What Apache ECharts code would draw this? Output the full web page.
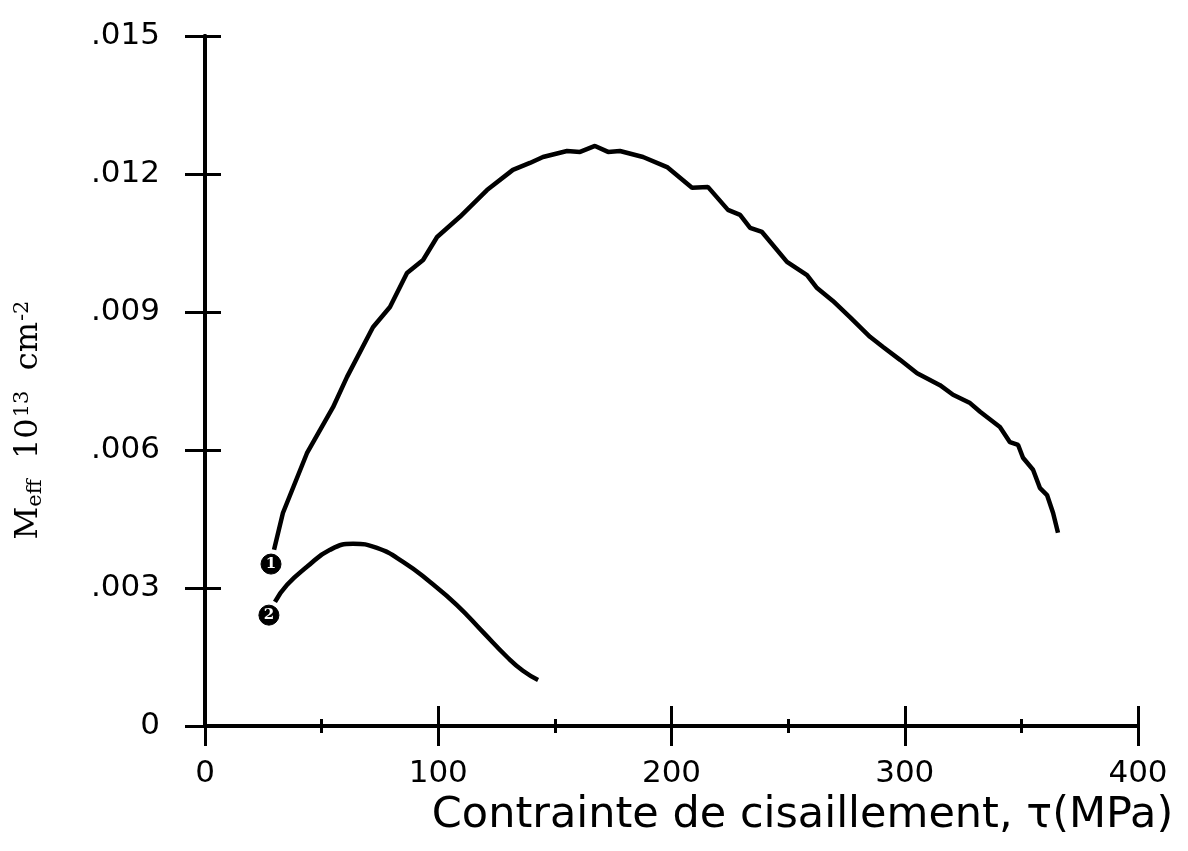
<!DOCTYPE html>
<html><head><meta charset="utf-8">
<script src="https://cdn.jsdelivr.net/npm/echarts@6/dist/echarts.min.js"></script>
<style>html,body{margin:0;padding:0;background:#fff}#c{width:1188px;height:851px}</style>
</head><body><div id="c"></div>
<script>
// Tick labels
const xTickValues = [0, 100, 200, 300, 400];
const yTickLabels = ['0', '.003', '.006', '.009', '.012', '.015'];

// Curve 1 : tau (MPa) and Meff
const curve1Tau = [29.6, 33.4, 43.7, 54.9, 60.9, 72.0, 79.3, 86.6, 93.5, 99.5, 109.3, 120.9, 132.0, 139.3, 144.9, 155.2, 160.8, 167.2, 172.8, 177.9, 187.8, 198.1, 208.8, 215.6, 224.2, 229.4, 233.7, 238.8, 249.5, 258.1, 262.4, 269.2, 276.5, 285.1, 290.7, 298.0, 305.3, 315.1, 320.7, 328.0, 332.3, 340.8, 345.1, 348.6, 350.7, 355.0, 358.0, 361.0, 363.6, 365.7];
const curve1M = [0.00383, 0.00463, 0.00593, 0.00693, 0.00759, 0.00867, 0.00911, 0.00985, 0.01013, 0.01063, 0.01107, 0.01165, 0.01209, 0.01224, 0.01237, 0.01250, 0.01248, 0.01261, 0.01248, 0.01250, 0.01237, 0.01215, 0.01170, 0.01172, 0.01122, 0.01111, 0.01083, 0.01074, 0.01009, 0.00980, 0.00952, 0.00924, 0.00889, 0.00846, 0.00824, 0.00796, 0.00767, 0.00741, 0.00720, 0.00702, 0.00683, 0.00650, 0.00617, 0.00611, 0.00583, 0.00557, 0.00517, 0.00502, 0.00463, 0.00420];

// Curve 2
const curve2Tau = [30.0, 35.2, 43.7, 53.6, 63.5, 73.7, 84.9, 96.5, 108.0, 119.2, 129.5, 136.3, 142.8];
const curve2M = [0.00270, 0.00307, 0.00346, 0.00383, 0.00396, 0.00387, 0.00357, 0.00313, 0.00263, 0.00204, 0.00150, 0.00120, 0.00100];

// Curve number markers
const markerTau = [28.3, 27.4];
const markerM = [0.00352, 0.00241];
const markerLabels = ['1', '2'];

const zip = (a, b) => a.map((v, i) => [v, b[i]]);
const yFmt = v => yTickLabels[Math.round(v / 0.003)] || '';

const axisLine = { show: true, lineStyle: { color: '#000', width: 4 } };
const tick = { show: true, inside: false, length: 20, lineStyle: { color: '#000', width: 3 } };
const labelStyle = { color: '#000', fontFamily: 'DejaVu Sans', fontSize: 31 };

const chart = echarts.init(document.getElementById('c'), null, { renderer: 'canvas' });
chart.setOption({
  animation: false,
  backgroundColor: '#fff',
  grid: { left: 205, right: 50, top: 36, bottom: 125, containLabel: false, outerBoundsMode: 'none' },
  xAxis: [
    {
      type: 'value', position: 'bottom', min: 0, max: 400, interval: 100,
      axisLine, axisTick: tick,
      minorTick: { show: true, splitNumber: 2, length: 7, lineStyle: { color: '#000', width: 3 } },
      splitLine: { show: false },
      axisLabel: { ...labelStyle, margin: 32, formatter: v => xTickValues.includes(v) ? String(v) : '' },
      name: 'Contrainte de cisaillement, τ(MPa)',
      nameLocation: 'middle', nameGap: 59,
      nameTextStyle: { color: '#000', fontFamily: 'DejaVu Sans', fontSize: 43, padding: [0, 0, 0, 262] }
    },
    {
      type: 'value', position: 'top', min: 0, max: 400, interval: 100,
      axisLine, axisTick: tick,
      minorTick: { show: true, splitNumber: 2, length: 7, lineStyle: { color: '#000', width: 3 } },
      splitLine: { show: false }, axisLabel: { show: false }
    }
  ],
  yAxis: [
    {
      type: 'value', position: 'left', min: 0, max: 0.015, interval: 0.003,
      axisLine, axisTick: tick, splitLine: { show: false },
      axisLabel: { ...labelStyle, margin: 45, formatter: yFmt },
      name: '{b|M}{s|eff}  {b|10}{p|13}  {b|cm}{p|-2}',
      nameLocation: 'middle', nameGap: 154,
      nameTextStyle: {
        padding: [0, 78, 0, 0],
        rich: {
          b: { fontFamily: 'DejaVu Serif', fontSize: 32, color: '#000', lineHeight: 44, verticalAlign: 'middle' },
          s: { fontFamily: 'DejaVu Serif', fontSize: 21, color: '#000', lineHeight: 44, verticalAlign: 'bottom', padding: [0, 0, 5, 0] },
          p: { fontFamily: 'DejaVu Serif', fontSize: 21, color: '#000', lineHeight: 44, verticalAlign: 'top', padding: [5, 0, 0, 1] }
        },
        fontFamily: 'DejaVu Serif', fontSize: 32, color: '#000'
      }
    },
    {
      type: 'value', position: 'right', min: 0, max: 0.015, interval: 0.003,
      axisLine, axisTick: { ...tick, length: 16 }, splitLine: { show: false }, axisLabel: { show: false }
    }
  ],
  series: [
    {
      type: 'line', xAxisIndex: 0, yAxisIndex: 0, data: zip(curve1Tau, curve1M),
      symbol: 'none', smooth: false, lineStyle: { color: '#000', width: 4.5 }, z: 3
    },
    {
      type: 'line', xAxisIndex: 0, yAxisIndex: 0, data: zip(curve2Tau, curve2M),
      symbol: 'none', smooth: true, lineStyle: { color: '#000', width: 4.5 }, z: 3
    },
    {
      type: 'scatter', xAxisIndex: 0, yAxisIndex: 0, data: zip(markerTau, markerM),
      symbol: 'circle', symbolSize: 20,
      itemStyle: { color: '#000', borderColor: '#000', borderWidth: 1, opacity: 1 },
      label: {
        show: true, position: 'inside', color: '#fff', fontWeight: 'bold',
        fontFamily: 'DejaVu Serif', fontSize: 15,
        formatter: p => markerLabels[p.dataIndex]
      },
      z: 5
    }
  ]
});
</script>
</body></html>
